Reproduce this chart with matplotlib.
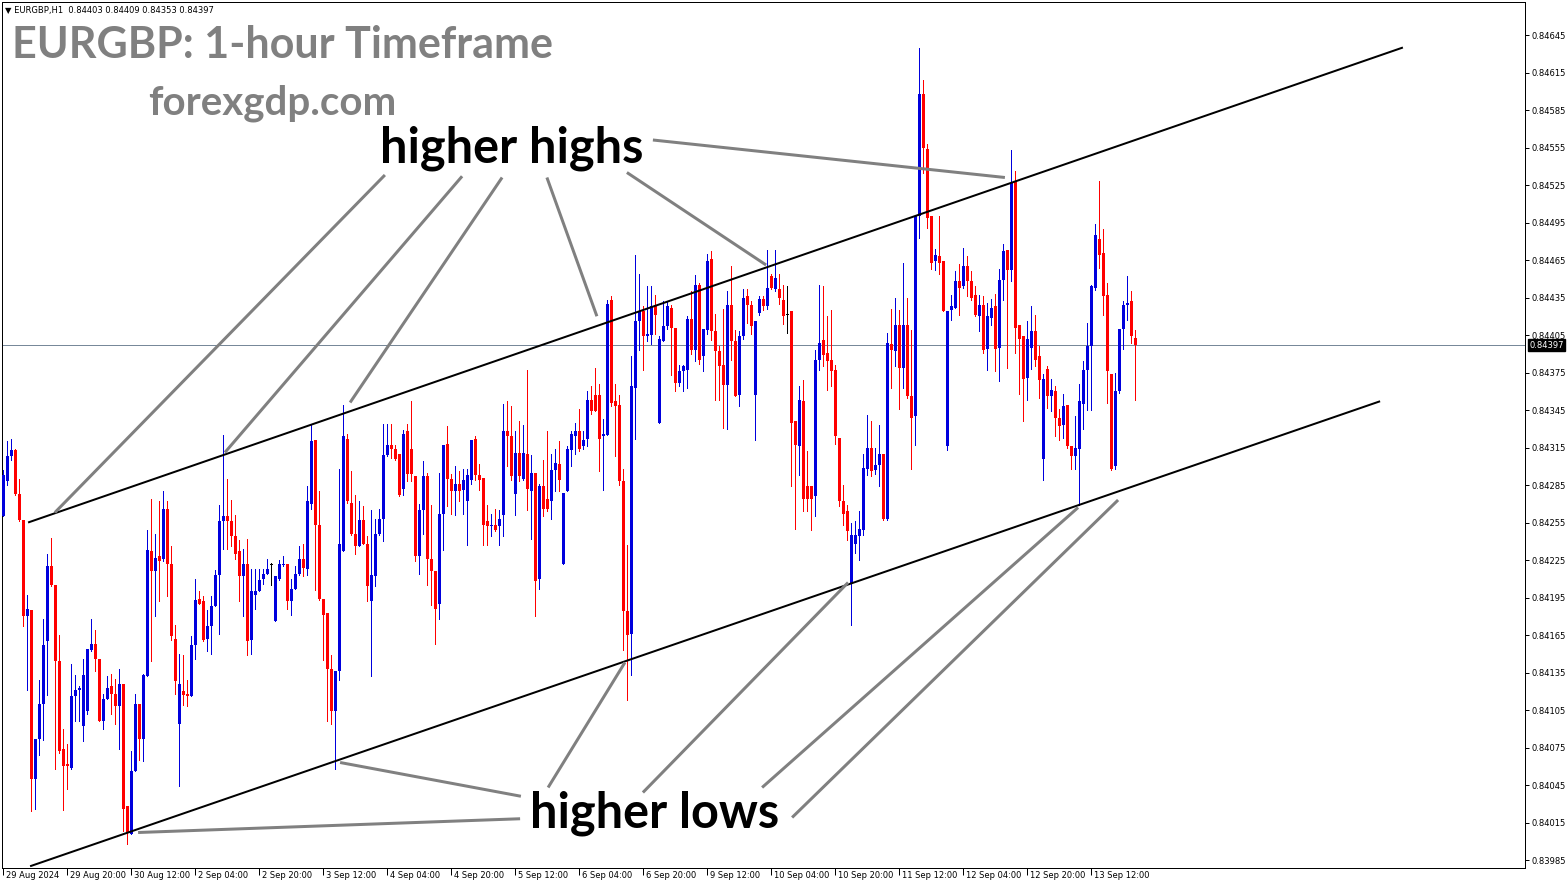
import numpy as np
import matplotlib
matplotlib.use("Agg")
import matplotlib.pyplot as plt
import matplotlib.transforms as mtransforms

# ---------------- data (prices in points, 1 point = 0.00001) ----------------
open_pts = [
    84260, 84288, 84308, 84313, 84278, 84257, 84180, 84185, 84050, 84082,
    84110, 84160, 84220, 84205, 84144, 84074, 84062, 84059, 84116, 84121,
    84092, 84104, 84153, 84158, 84146, 84096, 84114, 84124, 84118, 84108,
    84126, 84028, 84006, 84056, 84110, 84082, 84132, 84232, 84216, 84228,
    84226, 84266, 84222, 84162, 84094, 84120, 84118, 84116, 84157, 84194,
    84192, 84162, 84172, 84188, 84213, 84256, 84260, 84256, 84244, 84232,
    84212, 84222, 84161, 84197, 84200, 84210, 84214, 84221, 84176, 84210,
    84221, 84222, 84192, 84202, 84214, 84226, 84218, 84270, 84321, 84253,
    84194, 84183, 84138, 84104, 84136, 84232, 84322, 84271, 84246, 84236,
    84257, 84238, 84192, 84212, 84246, 84258, 84309, 84317, 84314, 84310,
    84282, 84328, 84314, 84292, 84228, 84265, 84292, 84226, 84216, 84190,
    84262, 84318, 84290, 84280, 84286, 84281, 84272, 84289, 84322, 84293,
    84291, 84256, 84252, 84253, 84252, 84261, 84328, 84324, 84278, 84311,
    84290, 84310, 84280, 84295, 84210, 84284, 84274, 84272, 84297, 84302,
    84222, 84280, 84313, 84324, 84328, 84316, 84322, 84353, 84357, 84357,
    84324, 84325, 84433, 84352, 84349, 84288, 84184, 84166, 84363, 84416,
    84424, 84404, 84405, 84429, 84335, 84400, 84412, 84427, 84411, 84367,
    84376, 84377, 84418, 84393, 84445, 84388, 84409, 84466, 84408, 84392,
    84381, 84365, 84429, 84400, 84357, 84404, 84436, 84429, 84357, 84423,
    84434, 84428, 84452, 84442, 84442, 84433, 84421, 84424, 84336, 84316,
    84352, 84284, 84284, 84276, 84385, 84401, 84391, 84385, 84377, 84323,
    84272, 84264, 84206, 84238, 84244, 84249, 84298, 84315, 84297, 84301,
    84310, 84258, 84398, 84392, 84413, 84379, 84413, 84356, 84340, 84500,
    84598, 84554, 84500, 84464, 84468, 84464, 84316, 84425, 84427, 84448,
    84444, 84460, 84448, 84437, 84420, 84429, 84394, 84419, 84428, 84395,
    84449, 84473, 84457, 84528, 84413, 84404, 84371, 84395, 84408, 84388,
    84306, 84378, 84356, 84360, 84339, 84333, 84349, 84316, 84308, 84314,
    84350, 84377, 84396, 84443, 84482, 84471, 84437, 84374, 84300, 84360,
    84410, 84429, 84432, 84403,
]
high_pts = [
    84297, 84320, 84322, 84314, 84290, 84257, 84197, 84185, 84082, 84129,
    84178, 84230, 84243, 84205, 84165, 84090, 84078, 84142, 84133, 84124,
    84146, 84154, 84178, 84169, 84146, 84118, 84132, 84134, 84130, 84138,
    84126, 84028, 84072, 84118, 84110, 84134, 84249, 84274, 84246, 84272,
    84280, 84272, 84236, 84173, 84150, 84149, 84129, 84164, 84210, 84200,
    84196, 84185, 84196, 84217, 84269, 84325, 84290, 84273, 84261, 84241,
    84234, 84242, 84218, 84218, 84218, 84218, 84226, 84223, 84212, 84225,
    84228, 84222, 84210, 84220, 84236, 84238, 84284, 84333, 84321, 84280,
    84194, 84183, 84149, 84136, 84298, 84349, 84326, 84296, 84277, 84272,
    84268, 84244, 84265, 84258, 84266, 84334, 84334, 84334, 84317, 84310,
    84329, 84334, 84352, 84292, 84270, 84304, 84295, 84269, 84216, 84295,
    84317, 84332, 84294, 84300, 84296, 84298, 84298, 84321, 84324, 84302,
    84291, 84269, 84262, 84266, 84265, 84350, 84352, 84348, 84328, 84336,
    84333, 84377, 84309, 84295, 84286, 84305, 84328, 84310, 84314, 84320,
    84279, 84316, 84328, 84335, 84346, 84328, 84360, 84364, 84379, 84366,
    84338, 84433, 84436, 84366, 84357, 84298, 84237, 84388, 84469, 84454,
    84428, 84444, 84444, 84437, 84404, 84432, 84432, 84429, 84411, 84381,
    84381, 84420, 84440, 84453, 84447, 84410, 84470, 84472, 84422, 84396,
    84426, 84440, 84460, 84409, 84408, 84442, 84442, 84432, 84416, 84436,
    84436, 84473, 84454, 84473, 84454, 84445, 84444, 84424, 84336, 84364,
    84369, 84312, 84284, 84393, 84445, 84444, 84420, 84425, 84381, 84323,
    84285, 84269, 84255, 84256, 84264, 84310, 84341, 84336, 84315, 84333,
    84310, 84407, 84426, 84435, 84425, 84463, 84435, 84409, 84500, 84635,
    84609, 84558, 84500, 84474, 84500, 84464, 84424, 84437, 84456, 84462,
    84475, 84468, 84456, 84444, 84437, 84436, 84431, 84434, 84438, 84458,
    84478, 84473, 84553, 84536, 84413, 84404, 84416, 84428, 84421, 84396,
    84374, 84380, 84370, 84364, 84346, 84358, 84349, 84316, 84340, 84366,
    84384, 84415, 84445, 84494, 84528, 84490, 84447, 84374, 84375, 84410,
    84432, 84452, 84440, 84409,
]
low_pts = [
    84260, 84285, 84305, 84277, 84256, 84172, 84121, 84024, 84026, 84069,
    84081, 84117, 84204, 84058, 84071, 84025, 84042, 84058, 84096, 84096,
    84080, 84102, 84152, 84136, 84096, 84090, 84114, 84102, 84094, 84074,
    84008, 83998, 84006, 84056, 84065, 84064, 84132, 84144, 84180, 84192,
    84224, 84196, 84161, 84118, 84044, 84109, 84108, 84116, 84146, 84190,
    84160, 84152, 84150, 84188, 84166, 84234, 84234, 84236, 84226, 84192,
    84180, 84149, 84150, 84186, 84200, 84206, 84214, 84205, 84176, 84209,
    84220, 84186, 84181, 84202, 84213, 84212, 84213, 84266, 84201, 84193,
    84145, 84096, 84094, 84058, 84129, 84232, 84271, 84245, 84230, 84236,
    84238, 84192, 84132, 84204, 84245, 84240, 84308, 84307, 84305, 84276,
    84277, 84288, 84288, 84224, 84214, 84246, 84205, 84189, 84158, 84178,
    84233, 84268, 84262, 84261, 84272, 84262, 84237, 84286, 84289, 84281,
    84237, 84237, 84244, 84248, 84237, 84244, 84300, 84289, 84261, 84288,
    84289, 84265, 84242, 84180, 84202, 84260, 84264, 84258, 84280, 84280,
    84222, 84280, 84300, 84310, 84312, 84314, 84316, 84342, 84344, 84296,
    84281, 84325, 84348, 84308, 84285, 84153, 84113, 84133, 84322, 84393,
    84377, 84400, 84398, 84406, 84335, 84400, 84410, 84373, 84360, 84364,
    84360, 84363, 84390, 84384, 84382, 84376, 84406, 84401, 84353, 84353,
    84331, 84330, 84385, 84356, 84348, 84402, 84415, 84406, 84321, 84421,
    84425, 84426, 84442, 84440, 84430, 84414, 84407, 84284, 84250, 84293,
    84264, 84264, 84249, 84260, 84377, 84380, 84361, 84364, 84318, 84268,
    84253, 84241, 84173, 84231, 84225, 84245, 84293, 84292, 84294, 84284,
    84257, 84257, 84363, 84380, 84346, 84363, 84355, 84298, 84317, 84483,
    84535, 84491, 84458, 84457, 84454, 84424, 84313, 84417, 84427, 84421,
    84443, 84436, 84433, 84420, 84408, 84391, 84377, 84413, 84376, 84368,
    84433, 84379, 84448, 84391, 84358, 84336, 84353, 84378, 84380, 84355,
    84289, 84347, 84344, 84324, 84321, 84323, 84315, 84298, 84298, 84269,
    84330, 84345, 84345, 84441, 84459, 84421, 84351, 84297, 84298, 84359,
    84394, 84417, 84399, 84353,
]
close_pts = [
    84293, 84308, 84313, 84278, 84257, 84180, 84186, 84050, 84082, 84110,
    84157, 84220, 84205, 84144, 84072, 84060, 84060, 84116, 84121, 84123,
    84133, 84154, 84158, 84146, 84096, 84114, 84123, 84118, 84108, 84126,
    84026, 84007, 84056, 84110, 84082, 84133, 84233, 84216, 84227, 84224,
    84266, 84222, 84164, 84128, 84126, 84117, 84116, 84157, 84193, 84190,
    84161, 84172, 84188, 84213, 84256, 84260, 84256, 84244, 84230, 84212,
    84222, 84160, 84200, 84200, 84209, 84214, 84218, 84221, 84212, 84222,
    84222, 84192, 84202, 84214, 84226, 84219, 84272, 84320, 84253, 84194,
    84181, 84138, 84104, 84136, 84238, 84324, 84272, 84246, 84236, 84257,
    84238, 84204, 84213, 84246, 84258, 84309, 84317, 84314, 84306, 84277,
    84326, 84294, 84294, 84228, 84265, 84292, 84226, 84216, 84186, 84262,
    84317, 84290, 84280, 84286, 84280, 84289, 84293, 84321, 84293, 84289,
    84253, 84252, 84253, 84249, 84258, 84328, 84324, 84292, 84311, 84292,
    84311, 84282, 84295, 84208, 84284, 84266, 84266, 84297, 84303, 84289,
    84279, 84314, 84326, 84328, 84314, 84321, 84353, 84344, 84344, 84322,
    84326, 84430, 84351, 84348, 84288, 84184, 84165, 84364, 84416, 84424,
    84404, 84406, 84428, 84421, 84402, 84412, 84428, 84411, 84367, 84376,
    84380, 84418, 84393, 84445, 84385, 84410, 84464, 84408, 84392, 84380,
    84365, 84429, 84400, 84356, 84404, 84435, 84429, 84412, 84416, 84434,
    84428, 84443, 84443, 84451, 84435, 84420, 84421, 84335, 84317, 84353,
    84274, 84274, 84274, 84385, 84399, 84389, 84384, 84376, 84324, 84272,
    84262, 84248, 84245, 84245, 84250, 84299, 84315, 84296, 84301, 84310,
    84258, 84399, 84393, 84413, 84379, 84413, 84356, 84339, 84500, 84598,
    84555, 84499, 84463, 84469, 84463, 84424, 84424, 84428, 84448, 84443,
    84460, 84448, 84435, 84421, 84429, 84393, 84420, 84427, 84394, 84449,
    84472, 84457, 84527, 84411, 84402, 84370, 84402, 84408, 84385, 84369,
    84370, 84356, 84361, 84339, 84332, 84348, 84316, 84308, 84315, 84352,
    84377, 84396, 84444, 84485, 84469, 84436, 84376, 84298, 84360, 84410,
    84429, 84431, 84404, 84397,
]

x_tick_bars = [0, 16, 32, 48, 64, 80, 96, 112, 128, 144, 160, 176, 192, 208, 224, 240, 256, 272]
x_tick_labels = ["29 Aug 2024", "29 Aug 20:00", "30 Aug 12:00", "2 Sep 04:00", "2 Sep 20:00",
                 "3 Sep 12:00", "4 Sep 04:00", "4 Sep 20:00", "5 Sep 12:00", "6 Sep 04:00",
                 "6 Sep 20:00", "9 Sep 12:00", "10 Sep 04:00", "10 Sep 20:00", "11 Sep 12:00",
                 "12 Sep 04:00", "12 Sep 20:00", "13 Sep 12:00"]
y_ticks = [0.83985, 0.84015, 0.84045, 0.84075, 0.84105, 0.84135, 0.84165, 0.84195, 0.84225,
           0.84255, 0.84285, 0.84315, 0.84345, 0.84375, 0.84405, 0.84435, 0.84465, 0.84495,
           0.84525, 0.84555, 0.84585, 0.84615, 0.84645]
last_price = 0.84397
header = "\u25BC EURGBP,H1  0.84403 0.84409 0.84353 0.84397"

# channel lines (bar index, price)
upper_channel = [(6.2, 0.84255), (349.9, 0.84635)]
lower_channel = [(6.7, 0.83980), (344.2, 0.84352)]
# pointer lines (bar index, price)
hh_pointers = [((95.4, 0.84533), (12.9, 0.84263)), ((114.7, 0.84532), (55.4, 0.84311)),
               ((124.7, 0.84531), (86.7, 0.84351)), ((135.9, 0.84531), (148.4, 0.84420)),
               ((155.9, 0.84535), (190.7, 0.84461)), ((162.4, 0.84561), (250.4, 0.84531))]
hl_pointers = [((129.2, 0.84018), (33.7, 0.84007)), ((129.4, 0.84036), (84.2, 0.84063)),
               ((136.2, 0.84043), (155.4, 0.84143)), ((159.9, 0.84039), (211.2, 0.84207)),
               ((189.7, 0.84043), (268.7, 0.84267)), ((197.2, 0.84019), (278.7, 0.84273))]
hh_label = ("higher highs", 127.2, 0.84543)
hl_label = ("higher lows", 162.7, 0.84011)

# ---------------- figure ----------------
W, H, DPI = 1568, 888, 100
PX = 72.0 / DPI
fig = plt.figure(figsize=(W / DPI, H / DPI), dpi=DPI, facecolor="white")
ax = fig.add_axes([2 / W, 20 / H, 1523 / W, 866 / H])
ax.set_facecolor("white")

o = np.array(open_pts) / 1e5
h = np.array(high_pts) / 1e5
l = np.array(low_pts) / 1e5
c = np.array(close_pts) / 1e5
xs = np.arange(len(o))

BLUE = "#0000DD"
RED = "#FF0000"
cols = np.where(c > o, BLUE, np.where(c < o, RED, "#000000"))

ax.vlines(xs, l, h, colors=cols, linewidth=1.0 * PX, antialiased=False, zorder=3)
body_bot = np.minimum(o, c)
body_h = np.maximum(np.abs(c - o), 0.000012)
ax.bar(xs, body_h, bottom=body_bot, width=0.75, color=cols, linewidth=0,
       antialiased=False, zorder=4)

# current price line
ax.axhline(last_price, color="#778899", linewidth=1.0 * PX, zorder=2)

# channel lines
for line in (upper_channel, lower_channel):
    (x0, y0), (x1, y1) = line
    ax.plot([x0, x1], [y0, y1], color="black", linewidth=2.0 * PX, zorder=5,
            solid_capstyle="butt")

# pointer lines
for (p0, p1) in hh_pointers + hl_pointers:
    ax.plot([p0[0], p1[0]], [p0[1], p1[1]], color="#808080", linewidth=3.0 * PX,
            zorder=5, solid_capstyle="butt")

FAM = ["Lato", "DejaVu Sans"]
for txt, bx, by in (hh_label, hl_label):
    ax.text(bx, by, txt, ha="center", va="baseline", fontsize=35, fontweight="bold",
            family=FAM, color="black", zorder=6)

ax.set_xlim(-0.325, 380.425)
ax.set_ylim(0.839786, 0.846714)

# axes / ticks
for sp in ax.spines.values():
    sp.set_color("black")
    sp.set_linewidth(1.0 * PX)

ax.yaxis.tick_right()
ax.set_yticks(y_ticks)
ax.set_yticklabels([f"{v:.5f}" for v in y_ticks])
ax.tick_params(axis="y", direction="out", length=3 * PX * 1.4, width=1.0 * PX,
               pad=2, labelsize=6, colors="black")
ax.set_xticks(x_tick_bars)
ax.set_xticklabels(x_tick_labels)
ax.tick_params(axis="x", direction="out", length=5 * PX * 1.4, width=1.0 * PX,
               pad=-3, labelsize=6, colors="black")
offset = mtransforms.ScaledTranslation(3 / DPI, 0, fig.dpi_scale_trans)
for lab in ax.get_xticklabels():
    lab.set_horizontalalignment("left")
    lab.set_transform(lab.get_transform() + offset)
for lab in ax.get_yticklabels():
    lab.set_family("DejaVu Sans")

# current price tag on the axis
ax.annotate(f"{last_price:.5f}", xy=(1.0, last_price), xycoords=("axes fraction", "data"),
            xytext=(4, 0), textcoords="offset pixels", ha="left", va="center",
            fontsize=6, color="white", family="DejaVu Sans",
            bbox=dict(boxstyle="square,pad=0.15", fc="black", ec="black"),
            annotation_clip=False, zorder=7)

# header and titles
fig.text(5 / W, 1 - 10 / H, header, ha="left", va="center", fontsize=6,
         family="DejaVu Sans", color="black")
fig.text(12 / W, 1 - 58 / H, "EURGBP: 1-hour Timeframe", ha="left", va="baseline",
         fontsize=31, fontweight="bold", family=FAM, color="#808080")
fig.text(148 / W, 1 - 114 / H, "forexgdp.com", ha="left", va="baseline",
         fontsize=29, fontweight="bold", family=FAM, color="#808080")

fig.savefig("out.png", dpi=DPI, facecolor="white")
